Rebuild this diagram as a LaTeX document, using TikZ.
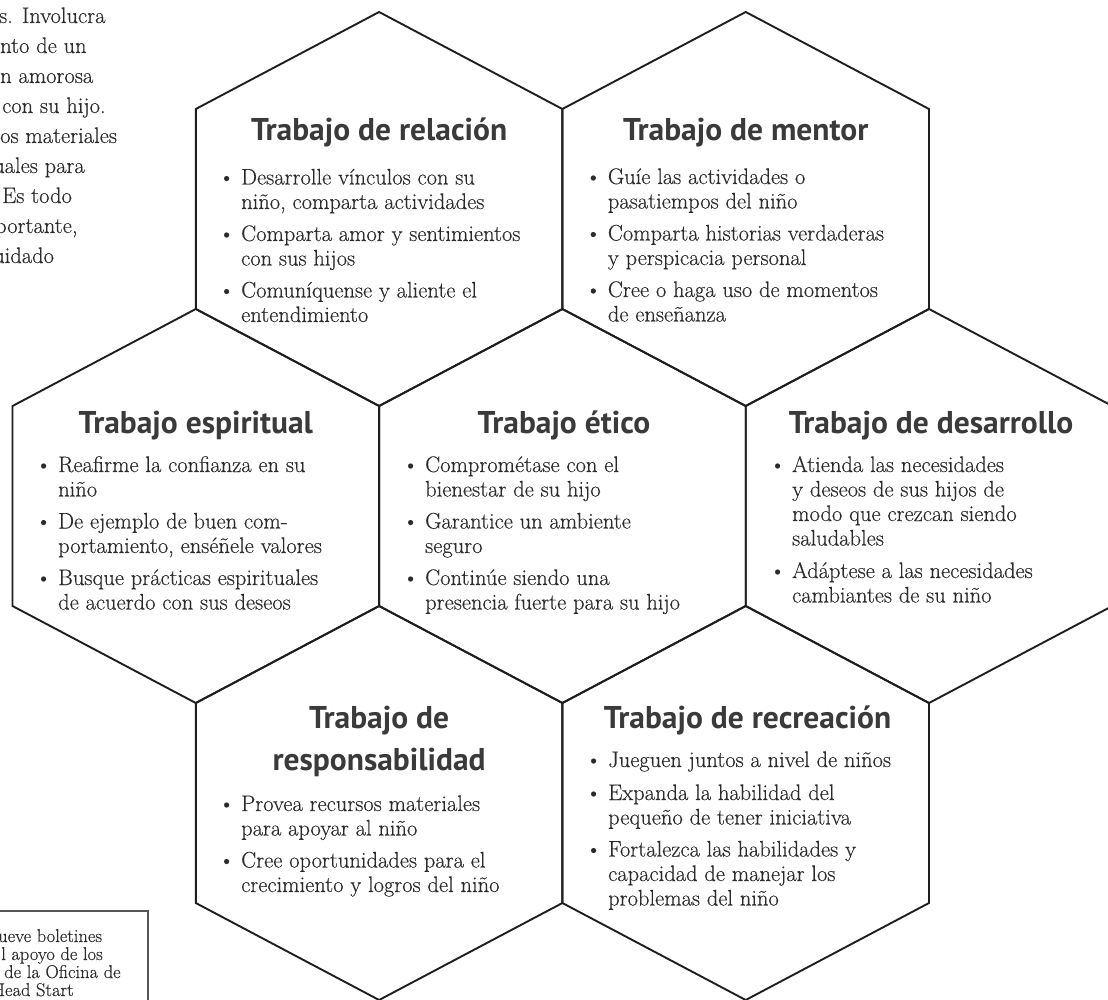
\documentclass[tikz,border=0pt]{standalone}
\usepackage{fontspec}
\newfontfamily\titlefont{PT Sans}
\newfontfamily\bodyfont{Latin Modern Roman}[FakeBold=0.35]
\definecolor{edgecol}{HTML}{1E1E1E}
\definecolor{bodytxt}{HTML}{2B2B2B}
\definecolor{titletxt}{HTML}{3A3A3A}
\definecolor{boxline}{HTML}{555555}
\newcommand\bul{\llap{\textbullet\hspace{6.5pt}}}
\newcommand\hexcell[2]{\draw[hexline] (#1,#2) -- ++(183.3,97) -- ++(0,200) -- ++(-183.3,97) -- ++(-183.3,-97) -- ++(0,-200) -- cycle;}
\tikzset{
  hexline/.style={draw=edgecol, line width=1.9pt, line join=miter},
  ttl/.style={font=\titlefont\bfseries\fontsize{31.5}{42}\selectfont, text=titletxt, inner sep=0pt, anchor=base},
  bodytext/.style={font=\bodyfont\fontsize{22.5}{24.5}\selectfont, text=bodytxt, inner sep=0pt, anchor=base west},
  para/.style={font=\bodyfont\fontsize{22.5}{30}\selectfont, text=bodytxt, inner sep=0pt, anchor=base west},
  note/.style={font=\bodyfont\fontsize{18.5}{18}\selectfont, text=bodytxt, inner sep=0pt, anchor=base west},
  framebox/.style={draw=boxline, line width=1.4pt}
}
\begin{document}
\begin{tikzpicture}[x=1pt,y=-1pt]
\useasboundingbox (0,0) rectangle (1108,1000);
\clip (0,0) rectangle (1108,1000);
% honeycomb
\hexcell{379.1}{12}
\hexcell{745.7}{12}
\hexcell{195.8}{309}
\hexcell{562.4}{309}
\hexcell{929.0}{309}
\hexcell{379.1}{606}
\hexcell{745.7}{606}
% cut paragraph at top left
\node[para] (p1) at (-1,23) {s. Involucra};
\node[para] (p2) at (0,53) {nto de un};
\node[para] (p3) at (0,83) {n amorosa};
\node[para] (p4) at (2,113) {con su hijo.};
\node[para] (p5) at (0,143) {os materiales};
\node[para] (p6) at (-7,173) {uales para};
\node[para] (p7) at (2,203) {Es todo};
\node[para] (p8) at (-5,233) {portante,};
\node[para] (p9) at (-7,263) {uidado};
% note box at bottom left
\draw[framebox] (-5,911) -- (148,911) -- (148,1010);
\node[note] (n1) at (-2,942) {ueve boletines};
\node[note] (n2) at (1,960) {l apoyo de los};
\node[note] (n3) at (4,978) {de la Oficina de};
\node[note] (n4) at (-8,996) {Head Start};
% Relacion
\node[ttl] (relT) at (379.1,141) {Trabajo de relación};
\node[bodytext] (relB) at (241,184.5) {\begin{tabular}[t]{@{}l@{}}\bul Desarrolle vínculos con su\\ niño, comparta actividades\\[7.5pt]\bul Comparta amor y sentimientos\\ con sus hijos\\[7.5pt]\bul Comuníquense y aliente el\\ entendimiento\end{tabular}};
% Mentor
\node[ttl] (menT) at (745.7,141) {Trabajo de mentor};
\node[bodytext] (menB) at (607.7,184) {\begin{tabular}[t]{@{}l@{}}\bul Guíe las actividades o\\ pasatiempos del niño\\[7.5pt]\bul Comparta historias verdaderas\\ y perspicacia personal\\[7.5pt]\bul Cree o haga uso de momentos\\ de enseñanza\end{tabular}};
% Espiritual
\node[ttl] (espT) at (195.8,433) {Trabajo espiritual};
\node[bodytext] (espB) at (58,472) {\begin{tabular}[t]{@{}l@{}}\bul Reafirme la confianza en su\\ niño\\[7.5pt]\bul De ejemplo de buen com-\\ portamiento, enséñele valores\\[7.5pt]\bul Busque prácticas espirituales\\ de acuerdo con sus deseos\end{tabular}};
% Etico
\node[ttl] (etiT) at (564,433) {Trabajo ético};
\node[bodytext] (etiB) at (425,472) {\begin{tabular}[t]{@{}l@{}}\bul Comprométase con el\\ bienestar de su hijo\\[7.5pt]\bul Garantice un ambiente\\ seguro\\[7.5pt]\bul Continúe siendo una\\ presencia fuerte para su hijo\end{tabular}};
% Desarrollo
\node[ttl] (desT) at (931,433) {Trabajo de desarrollo};
\node[bodytext] (desB) at (792,472) {\begin{tabular}[t]{@{}l@{}}\bul Atienda las necesidades\\ y deseos de sus hijos de\\ modo que crezcan siendo\\ saludables\\[8pt]\bul Adáptese a las necesidades\\ cambiantes de su niño\end{tabular}};
% Responsabilidad
\node[ttl] (resT) at (379.1,728) {\begin{tabular}[t]{@{}c@{}}Trabajo de\\ responsabilidad\end{tabular}};
\node[bodytext] (resB) at (241,811) {\begin{tabular}[t]{@{}l@{}}\bul Provea recursos materiales\\ para apoyar al niño\\[7.5pt]\bul Cree oportunidades para el\\ crecimiento y logros del niño\end{tabular}};
% Recreacion
\node[ttl] (recT) at (747.5,728) {Trabajo de recreación};
\node[bodytext] (recB) at (608,767) {\begin{tabular}[t]{@{}l@{}}\bul Jueguen juntos a nivel de niños\\[8.5pt]\bul Expanda la habilidad del\\ pequeño de tener iniciativa\\[7.5pt]\bul Fortalezca las habilidades y\\ capacidad de manejar los\\ problemas del niño\end{tabular}};
\end{tikzpicture}
\end{document}
